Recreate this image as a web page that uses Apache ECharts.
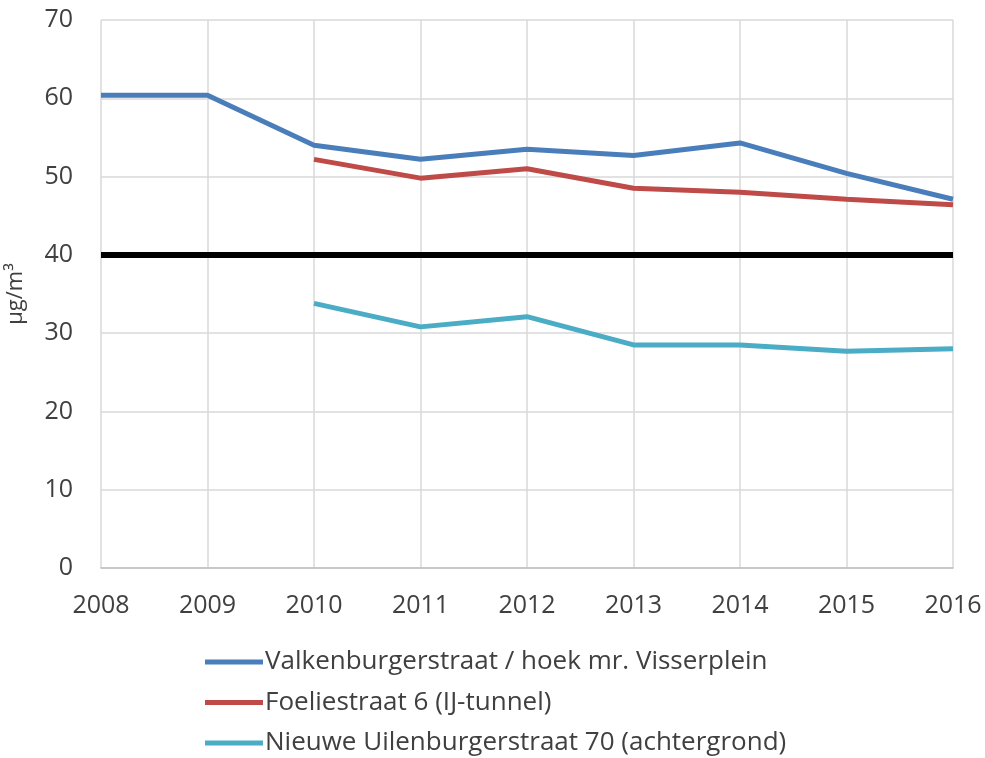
<!DOCTYPE html>
<html><head><meta charset="utf-8">
<script src="https://cdn.jsdelivr.net/npm/echarts@6/dist/echarts.min.js"></script>
<style>html,body{margin:0;padding:0;background:#fff}#c{width:985px;height:758px}</style>
</head><body><div id="c"></div>
<script>
const years = ['2008','2009','2010','2011','2012','2013','2014','2015','2016'];
const yTicks = [0,10,20,30,40,50,60,70];
const valkenburger = [60.4,60.4,54.0,52.2,53.5,52.7,54.3,50.4,47.1];
const foelie = [null,null,52.2,49.8,51.0,48.5,48.0,47.1,46.4];
const uilenburger = [null,null,33.8,30.8,32.1,28.5,28.5,27.7,28.0];
const limitValue = 40;
const names = ['Valkenburgerstraat / hoek mr. Visserplein','Foeliestraat 6 (IJ-tunnel)','Nieuwe Uilenburgerstraat 70 (achtergrond)'];
const colors = ['#4a7ebb','#be4b48','#4bacc6'];
const font = '"Open Sans", "Noto Sans", sans-serif';
const chart = echarts.init(document.getElementById('c'));
const mk = (name, data, color, extra) => Object.assign({
  name, type:'line', data, symbol:'none', smooth:false, connectNulls:false,
  lineStyle:{color, width:5}, itemStyle:{color}, z:3
}, extra||{});
chart.setOption({
  animation:false,
  textStyle:{fontFamily:font},
  grid:{left:101, right:32, top:20, bottom:190, containLabel:false, outerBoundsMode:'none'},
  legend:{
    orient:'vertical', left:205, top:649, height:125, padding:0, itemGap:14.5,
    icon:'rect', itemWidth:58, itemHeight:5,
    textStyle:{fontSize:26, color:'#404040', fontFamily:font, padding:[0,0,0,-3]},
    data:names
  },
  xAxis:{
    type:'category', data:years, boundaryGap:false,
    axisLine:{show:true, lineStyle:{color:'#bfbfbf', width:1.5}},
    axisTick:{show:false},
    axisLabel:{fontSize:25, color:'#404040', margin:25, fontFamily:font},
    splitLine:{show:true, lineStyle:{color:'#d9d9d9', width:1.5}}
  },
  yAxis:{
    type:'value', min:yTicks[0], max:yTicks[yTicks.length-1], interval:10,
    name:'µg/m³', nameLocation:'middle', nameGap:74, nameRotate:90,
    nameTextStyle:{fontSize:22, color:'#404040', fontFamily:font},
    axisLine:{show:false}, axisTick:{show:false},
    axisLabel:{fontSize:25, color:'#404040', margin:28, fontFamily:font},
    splitLine:{show:true, lineStyle:{color:'#d9d9d9', width:1.5}}
  },
  series:[
    mk(names[0], valkenburger, colors[0], {
      markLine:{silent:true, symbol:'none', label:{show:false},
        lineStyle:{color:'#000', width:6, type:'solid'},
        data:[{yAxis:limitValue}], z:2}
    }),
    mk(names[1], foelie, colors[1]),
    mk(names[2], uilenburger, colors[2])
  ]
});
</script></body></html>
